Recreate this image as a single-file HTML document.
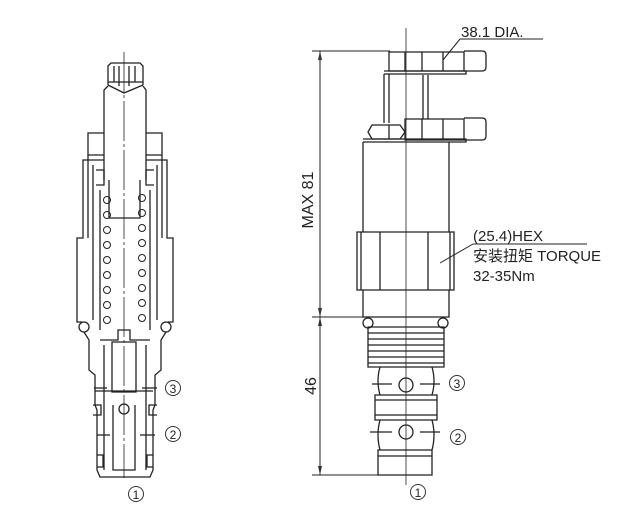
<!DOCTYPE html>
<html><head><meta charset="utf-8"><style>
html,body{margin:0;padding:0;background:#fff;}
svg{display:block;}
text{font-family:"Liberation Sans","Noto Sans CJK SC",sans-serif;fill:#222;}
</style></head><body>
<svg width="636" height="521" viewBox="0 0 636 521" xmlns="http://www.w3.org/2000/svg">
<g fill="none" stroke="#222" stroke-width="1.3">
<!-- LEFT SECTION -->
<line x1="124" y1="52" x2="124" y2="478" stroke-width="0.8" stroke-dasharray="40,3,3,3"/>
<path d="M108,85 L108,66 L111,63 L140,63 L143,66 L143,85"/>
<path d="M114,66 V82 M119,66 V86 M129,66 V86 M135,66 V82 M108,82 H143"/>
<path d="M108,85 L124,93 L143,85"/>
<path d="M108,86 L104,90 L104,180 M143,86 L146,90 L146,180"/>
<path d="M109,180 V218 H140 V180"/>
<path d="M104,133 H88 V155 H104 M146,133 H162 V155 H146"/>
<path d="M104,160 L83,160 L83,238 L77,238 L77,322 L82,322 M146,160 L167,160 L167,238 L173,238 L173,322 L168,322"/>
<path d="M88,155 V238 M162,155 V238"/>
<path d="M93,165 V320 M157,165 V320 M96,170 H104 V185 H96 M154,170 H146 V185 H154"/>
<path d="M100,190 V330 M150,190 V330"/>
<g stroke-width="1">
<circle cx="107" cy="200" r="3.5"/><circle cx="107" cy="215" r="3.5"/><circle cx="107" cy="230" r="3.5"/><circle cx="107" cy="245" r="3.5"/><circle cx="107" cy="260" r="3.5"/><circle cx="107" cy="275" r="3.5"/><circle cx="107" cy="290" r="3.5"/><circle cx="107" cy="305" r="3.5"/><circle cx="107" cy="320" r="3.5"/>
<circle cx="142" cy="198" r="3.5"/><circle cx="142" cy="213" r="3.5"/><circle cx="142" cy="228" r="3.5"/><circle cx="142" cy="243" r="3.5"/><circle cx="142" cy="258" r="3.5"/><circle cx="142" cy="273" r="3.5"/><circle cx="142" cy="288" r="3.5"/><circle cx="142" cy="303" r="3.5"/><circle cx="142" cy="318" r="3.5"/>
</g>
<circle cx="84" cy="327" r="5"/><circle cx="166" cy="327" r="5"/>
<path d="M84,332 L89,340 L89,370 L95,375 L95,405 L97,410 L97,470 L100,477 H150 L153,470 L153,410 L155,405 L155,375 L161,370 L161,340 L166,332"/>
<path d="M100,340 H118 V330 H130 V340 H150 M104,345 V470 M146,345 V470"/>
<path d="M112,342 L112,392 H136 V342 Z M113,405 V470 H135 V405"/>
<circle cx="124" cy="409" r="5"/>
<line x1="95" y1="391" x2="153" y2="391"/>
<path d="M93,405 h8 v10 h-8 M157,405 h-8 v10 h8 M97,455 h6 v12 h-6 M153,455 h-6 v12 h6"/>
<line x1="94" y1="388" x2="107" y2="388"/><line x1="142" y1="388" x2="157" y2="388"/>
<line x1="97" y1="435" x2="110" y2="435"/><line x1="140" y1="435" x2="155" y2="435"/>
</g>
<g text-anchor="middle">
<circle cx="173" cy="388" r="7.5" fill="none" stroke="#333"/><text x="173" y="393" font-size="12">3</text>
<circle cx="173" cy="434" r="7.5" fill="none" stroke="#333"/><text x="173" y="439" font-size="12">2</text>
<circle cx="136" cy="494" r="7.5" fill="none" stroke="#333"/><text x="136" y="499" font-size="12">1</text>
</g>

<!-- RIGHT VIEW -->
<g fill="none" stroke="#222" stroke-width="1.3">
<line x1="406" y1="28" x2="406" y2="485" stroke-width="0.8"/>
<path d="M389,52 H464 V71 H389 Z M405,52 V71 M422,52 V71 M443,52 V71"/>
<path d="M464,51 H482 Q486,51 486,55 V67 Q486,71 482,71 H464"/>
<path d="M384,71 H466 V74 H384"/>
<path d="M384,74 V123 M389,74 V123 M423,75 V119 M428,75 V119"/>
<path d="M405,119 H464 V140 H405 Z M422,119 V140 M443,119 V140"/>
<path d="M464,118 H482 Q486,118 486,122 V136 Q486,140 482,140 H464"/>
<path d="M372,125 H400 L405,132 L400,139 H372 L368,132 Z M389,125 V139"/>
<path d="M363,139 H466 V142 H363"/>
<path d="M363,142 V232 M449,142 V232"/>
<path d="M357,232 H454 V290 H357 Z M361,232 V290 M450,232 V290 M380,232 V290 M428,232 V290"/>
<path d="M363,290 V317 H449 V290"/>
<circle cx="368" cy="323" r="5"/><circle cx="443" cy="323" r="5"/>
<path d="M368,327 H444 V367 H368 Z"/>
<path d="M368,333 H444 M368,339 H444 M368,345 H444 M368,351 H444 M368,357 H444 M368,363 H444"/>
<path d="M380,367 Q376,381 380,395 M432,367 Q436,381 432,395"/>
<path d="M375,395 H437 V420 H375 Z M375,400 H437 M375,415 H437"/>
<path d="M380,420 Q376,435 380,450 M432,420 Q436,435 432,450"/>
<path d="M378,450 H432 V475 H378 Z M378,456 H432"/>
<circle cx="406" cy="385" r="7"/><circle cx="406" cy="432" r="7"/>
<line x1="372" y1="384" x2="392" y2="384"/><line x1="420" y1="384" x2="440" y2="384"/>
<line x1="370" y1="432" x2="392" y2="432"/><line x1="420" y1="432" x2="440" y2="432"/>
<g stroke-width="1">
<line x1="312" y1="51" x2="390" y2="51"/>
<line x1="312" y1="317" x2="363" y2="317"/>
<line x1="312" y1="475" x2="378" y2="475"/>
<line x1="320" y1="51" x2="320" y2="475"/>
<line x1="460" y1="39" x2="543" y2="39"/><line x1="460" y1="39" x2="443" y2="60"/>
<line x1="473" y1="244" x2="587" y2="244"/><line x1="473" y1="244" x2="440" y2="263"/>
</g>
</g>
<g fill="#333">
<path d="M320,51 l-2,9 h4 z M320,317 l-2,-9 h4 z M320,317 l-2,9 h4 z M320,475 l-2,-9 h4 z"/>
</g>
<text x="313" y="200" font-size="16" text-anchor="middle" transform="rotate(-90 313 200)">MAX 81</text>
<text x="316" y="386" font-size="16" text-anchor="middle" transform="rotate(-90 316 386)">46</text>
<text x="461" y="37" font-size="15">38.1 DIA.</text>
<text x="473" y="241" font-size="15">(25.4)HEX</text>
<text x="473" y="261" font-size="15">安装扭矩 TORQUE</text>
<text x="473" y="281" font-size="15">32-35Nm</text>
<g text-anchor="middle">
<circle cx="457" cy="383" r="7.5" fill="none" stroke="#333"/><text x="457" y="388" font-size="12">3</text>
<circle cx="458" cy="437" r="7.5" fill="none" stroke="#333"/><text x="458" y="442" font-size="12">2</text>
<circle cx="418" cy="492" r="7.5" fill="none" stroke="#333"/><text x="418" y="497" font-size="12">1</text>
</g>
</svg>
</body></html>
